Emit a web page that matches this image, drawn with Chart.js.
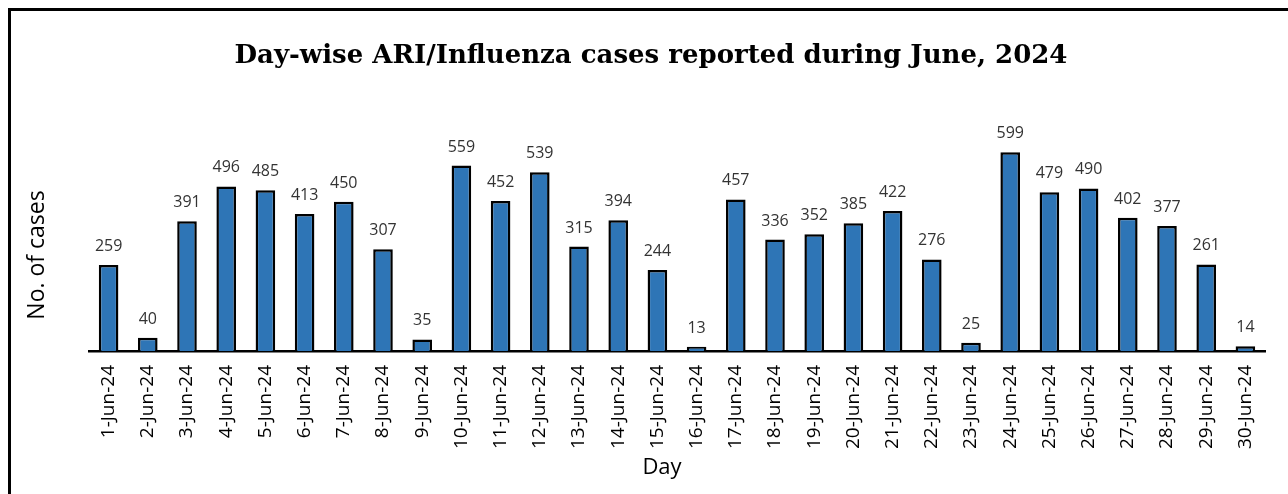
<!DOCTYPE html>
<html>
<head>
<meta charset="utf-8">
<title>Day-wise ARI/Influenza cases</title>
<script src="https://cdn.jsdelivr.net/npm/chart.js@4.4.1/dist/chart.umd.min.js"></script>
<style>
  html, body { margin: 0; padding: 0; background: #fff; }
  #wrap { position: relative; width: 1288px; height: 494px; }
</style>
</head>
<body>
<div id="wrap"><canvas id="casesChart" width="1288" height="494"></canvas></div>
<script>
// --- Data ---
const days = [
  '1-Jun-24', '2-Jun-24', '3-Jun-24', '4-Jun-24', '5-Jun-24', '6-Jun-24',
  '7-Jun-24', '8-Jun-24', '9-Jun-24', '10-Jun-24', '11-Jun-24', '12-Jun-24',
  '13-Jun-24', '14-Jun-24', '15-Jun-24', '16-Jun-24', '17-Jun-24', '18-Jun-24',
  '19-Jun-24', '20-Jun-24', '21-Jun-24', '22-Jun-24', '23-Jun-24', '24-Jun-24',
  '25-Jun-24', '26-Jun-24', '27-Jun-24', '28-Jun-24', '29-Jun-24', '30-Jun-24'
];
const cases = [
  259, 40, 391, 496, 485, 413, 450, 307, 35, 559,
  452, 539, 315, 394, 244, 13, 457, 336, 352, 385,
  422, 276, 25, 599, 479, 490, 402, 377, 261, 14
];

const chartTitle = 'Day-wise ARI/Influenza cases reported during June, 2024';
const xTitle = 'Day';
const yTitle = 'No. of cases';

// --- Plugins ---
// white page plus the frame line on the left and top edges
const framePlugin = {
  id: 'frame',
  beforeDraw(chart) {
    const ctx = chart.ctx;
    ctx.save();
    ctx.fillStyle = '#fff';
    ctx.fillRect(0, 0, chart.width, chart.height);
    ctx.strokeStyle = '#000';
    ctx.lineWidth = 3;
    ctx.beginPath();
    ctx.moveTo(9.5, chart.height + 5);
    ctx.lineTo(9.5, 9.5);
    ctx.lineTo(chart.width + 5, 9.5);
    ctx.stroke();
    ctx.restore();
  }
};

// chart title and axis titles (the original has them off the plot centre)
const titlesPlugin = {
  id: 'titles',
  afterDraw(chart) {
    const ctx = chart.ctx;
    ctx.save();
    ctx.fillStyle = '#000';
    ctx.textAlign = 'center';
    ctx.textBaseline = 'alphabetic';

    ctx.font = 'bold 26px "DejaVu Serif"';
    ctx.fillText(chartTitle, 651, 63);

    ctx.font = '22px "Open Sans"';
    ctx.fillText(xTitle, 662, 474);

    ctx.translate(44, 255);
    ctx.rotate(-Math.PI / 2);
    ctx.font = '23px "Open Sans"';
    ctx.fillText(yTitle, 0, 0);
    ctx.restore();
  }
};

// value labels above each bar
const valueLabels = {
  id: 'valueLabels',
  afterDatasetsDraw(chart) {
    const ctx = chart.ctx;
    const meta = chart.getDatasetMeta(0);
    ctx.save();
    ctx.font = '16px "Open Sans"';
    ctx.fillStyle = '#333';
    ctx.textAlign = 'center';
    ctx.textBaseline = 'alphabetic';
    meta.data.forEach((bar, i) => {
      ctx.fillText(String(cases[i]), bar.x, bar.y - 14);
    });
    ctx.restore();
  }
};

// --- Chart ---
const canvas = document.getElementById('casesChart');
new Chart(canvas.getContext('2d'), {
  type: 'bar',
  data: {
    labels: days,
    datasets: [{
      label: yTitle,
      data: cases,
      backgroundColor: '#2E75B6',
      borderColor: '#000',
      borderWidth: 2.5,
      barPercentage: 0.5,
      categoryPercentage: 1.0
    }]
  },
  options: {
    responsive: false,
    animation: false,
    layout: { padding: { left: 0, right: 23, top: 152, bottom: 0 } },
    scales: {
      y: {
        min: 0,
        max: 600,
        grid: { display: false },
        border: { display: false },
        ticks: { display: false },
        afterFit(scale) { scale.width = 89; }
      },
      x: {
        grid: { display: false, drawTicks: false },
        border: { display: true, color: '#000', width: 2.5 },
        ticks: {
          color: '#000',
          font: { family: 'Open Sans', size: 19 },
          minRotation: 90,
          maxRotation: 90,
          autoSkip: false,
          padding: 14
        },
        afterFit(scale) { scale.height = 143; }
      }
    },
    plugins: {
      legend: { display: false },
      tooltip: { enabled: false },
      title: { display: false }
    }
  },
  plugins: [framePlugin, valueLabels, titlesPlugin]
});
</script>
</body>
</html>
